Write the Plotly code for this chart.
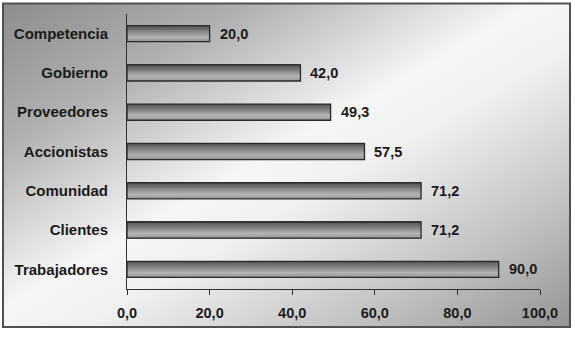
import base64
import plotly.graph_objects as go

# ---- data ----
categories = ["Trabajadores", "Clientes", "Comunidad", "Accionistas",
              "Proveedores", "Gobierno", "Competencia"]
values = [90.0, 71.2, 71.2, 57.5, 49.3, 42.0, 20.0]
x_ticks = [0, 20, 40, 60, 80, 100]

W, H = 575, 357
L, R, T, B = 127, 35, 13.5, 68
pw, ph = W - L - R, H - T - B

FONT = "Liberation Sans, Arial, sans-serif"
TXT = "#1a1a1a"

def px_to_paper_x(px):
    return (px - L) / pw

def px_to_paper_y(py):
    return (H - B - py) / ph

fig = go.Figure()

# gradient bars built from thin slices
bar_w = 0.41
n = 18
def lerp(a, b, t):
    return int(round(a + (b - a) * t))
stops = [(0.0, (0x4c, 0x4c, 0x4c)), (0.75, (0xb4, 0xb4, 0xb4)), (1.0, (0x96, 0x96, 0x96))]
def grad(t):
    for (t0, c0), (t1, c1) in zip(stops[:-1], stops[1:]):
        if t0 <= t <= t1:
            u = (t - t0) / (t1 - t0)
            return "rgb(%d,%d,%d)" % tuple(lerp(c0[k], c1[k], u) for k in range(3))
    return "rgb(%d,%d,%d)" % stops[-1][1]

for i in range(n):
    t = (i + 0.5) / n
    fig.add_trace(go.Bar(
        y=categories, x=values, orientation="h",
        width=bar_w / n * 1.05, offset=bar_w / 2 - (i + 1) * bar_w / n,
        marker=dict(color=grad(t), line=dict(width=0)),
        hoverinfo="skip", showlegend=False,
    ))

# outline
fig.add_trace(go.Bar(
    y=categories, x=values, orientation="h",
    width=bar_w, offset=-bar_w / 2,
    marker=dict(color="rgba(0,0,0,0)", line=dict(color="#2a2a2a", width=1.3)),
    showlegend=False,
))

# value labels
for c, v in zip(categories, values):
    fig.add_annotation(
        x=v, y=c, xref="x", yref="y",
        text=f"{v:.1f}".replace(".", ","),
        showarrow=False, xanchor="left", xshift=8,
        font=dict(family=FONT, size=14.5, color=TXT, weight="bold"),
    )

# background gradient frame
svg = (
    '<svg xmlns="http://www.w3.org/2000/svg" width="567" height="324" '
    'viewBox="0 0 567 324" preserveAspectRatio="none">'
    '<defs><linearGradient id="g" x1="0" y1="0" x2="1" y2="1">'
    '<stop offset="0" stop-color="#8c8c8c"/>'
    '<stop offset="0.22" stop-color="#b0b0b0"/>'
    '<stop offset="0.47" stop-color="#f6f6f6"/>'
    '<stop offset="0.57" stop-color="#f0f0f0"/>'
    '<stop offset="0.8" stop-color="#c2c2c2"/>'
    '<stop offset="1" stop-color="#949494"/>'
    '</linearGradient></defs>'
    '<rect width="567" height="324" fill="url(#g)"/></svg>'
)
src = "data:image/svg+xml;base64," + base64.b64encode(svg.encode()).decode()
fx0, fx1 = px_to_paper_x(3), px_to_paper_x(570)
fy1, fy0 = px_to_paper_y(3), px_to_paper_y(327)
fig.add_layout_image(
    source=src, xref="paper", yref="paper",
    x=fx0, y=fy1, sizex=fx1 - fx0, sizey=fy1 - fy0,
    xanchor="left", yanchor="top", sizing="stretch", layer="below",
)
fig.add_shape(type="rect", xref="paper", yref="paper",
              x0=fx0, x1=fx1, y0=fy0, y1=fy1,
              line=dict(color="#505050", width=2), layer="above")

fig.update_layout(
    width=W, height=H,
    margin=dict(l=L, r=R, t=T, b=B, pad=0, autoexpand=False),
    paper_bgcolor="white", plot_bgcolor="rgba(0,0,0,0)",
    barmode="overlay", separators=",.",
    showlegend=False,
)
fig.update_xaxes(
    automargin=False,
    range=[0, 100], tickvals=x_ticks, tickformat=".1f",
    showgrid=False, zeroline=False,
    showline=True, linecolor="#303030", linewidth=1,
    ticks="outside", ticklen=5, tickcolor="#303030", tickwidth=1,
    tickfont=dict(family=FONT, size=14.5, color=TXT, weight="bold"),
    ticklabelstandoff=6,
)
fig.update_yaxes(
    automargin=False,
    range=[-0.5, 6.5], showgrid=False, zeroline=False,
    showline=True, linecolor="#303030", linewidth=1,
    ticks="", ticklabelstandoff=15,
    tickfont=dict(family=FONT, size=15, color=TXT, weight="bold"),
)

fig.write_html("out.html",
               config={"displayModeBar": False},
               post_script="document.body.style.margin='0';document.body.style.overflow='hidden';")
